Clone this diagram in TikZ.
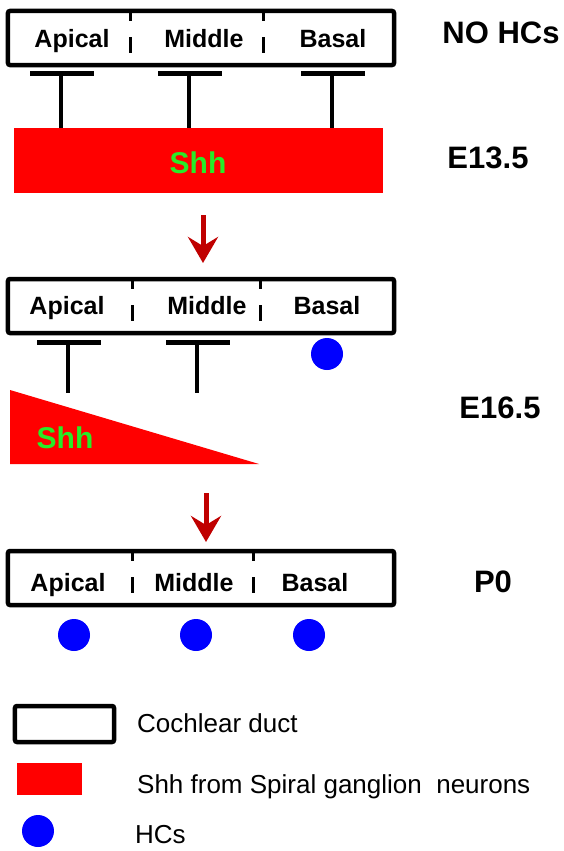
\documentclass[tikz,border=0pt]{standalone}
\usepackage{fontspec}
\setmainfont{Liberation Sans}
\usetikzlibrary{arrows.meta,calc}
\definecolor{shhred}{RGB}{255,0,0}
\definecolor{shhgreen}{RGB}{40,235,40}
\definecolor{hcblue}{RGB}{0,0,255}
\definecolor{flowred}{RGB}{192,0,0}

\begin{document}
\begin{tikzpicture}[x=1bp,y=-1bp,
  duct/.style={draw=black, line width=4.5bp, rounded corners=2bp,
    minimum width=386bp, minimum height=54bp, inner sep=0pt},
  divider/.style={line width=3bp, dash pattern=on 10bp off 16bp on 16bp off 20bp},
  region/.style={font=\fontsize{25bp}{30bp}\selectfont\bfseries, anchor=base, inner sep=0pt},
  stage/.style={font=\fontsize{31bp}{36bp}\selectfont\bfseries, anchor=base, inner sep=0pt},
  shhlabel/.style={font=\fontsize{30bp}{36bp}\selectfont\bfseries, text=shhgreen, anchor=base, inner sep=0pt},
  shhzone/.style={fill=shhred, inner sep=0pt},
  inhbar/.style={line width=5bp},
  inhstem/.style={line width=4.5bp},
  hc/.style={circle, fill=hcblue, minimum size=32bp, inner sep=0pt},
  flow/.style={-{Stealth[length=26bp, width=30bp, inset=9bp]},
    line width=5bp, draw=flowred},
  legendtext/.style={font=\fontsize{26bp}{30bp}\selectfont, anchor=base west, inner sep=0pt}
]
\useasboundingbox (0,0) rectangle (564,851);

% ---------- E13.5 : no hair cells ----------
\node[duct] (d1) at (201,38) {};
\draw[divider] (130,11) -- (130,65);
\draw[divider] (263,11) -- (263,65);
\node[region] (d1a) at (72,47) {Apical};
\node[region] (d1m) at (204,47) {Middle};
\node[region] (d1b) at (333,47) {Basal};
\node[stage] (s1) at (501,43) {NO HCs};

\node[shhzone, minimum width=369bp, minimum height=65bp] (shh1) at (198.5,160.5) {};
\node[shhlabel] (shh1t) at (198,173) {Shh};
\node[stage] (s2) at (488,168) {E13.5};

\foreach \x/\n in {61/a,189/m,332/b}{
  \coordinate (i1\n) at (\x,73);
  \draw[inhbar] ($(i1\n)+(-31,0)$) -- ($(i1\n)+(33,0)$);
  \draw[inhstem] ($(i1\n)+(0,2)$) -- (i1\n |- shh1.north);
}

% ---------- transition ----------
\coordinate (f1s) at (203,215);
\coordinate (f1e) at (203,263);
\draw[flow] (f1s) -- (f1e);

% ---------- E16.5 : basal hair cells ----------
\node[duct] (d2) at (201,306) {};
\draw[divider] (132,279) -- (132,333);
\draw[divider] (260,279) -- (260,333);
\node[region] (d2a) at (67,314) {Apical};
\node[region] (d2m) at (207,314) {Middle};
\node[region] (d2b) at (327,314) {Basal};

\foreach \x/\n in {68/a,197/m}{
  \coordinate (i2\n) at (\x,342);
  \coordinate (j2\n) at (\x,393);
  \draw[inhbar] ($(i2\n)+(-31,0)$) -- ($(i2\n)+(33,0)$);
  \draw[inhstem] ($(i2\n)+(0,2)$) -- (j2\n);
}
\node[hc] (hc2b) at (327,354) {};

\fill[shhred] (10,390) -- (10,464) -- (259,464) -- cycle;
\node[shhlabel] (shh2t) at (65,448) {Shh};
\node[stage] (s3) at (500,418) {E16.5};

% ---------- transition ----------
\coordinate (f2s) at (206,493);
\coordinate (f2e) at (206,542);
\draw[flow] (f2s) -- (f2e);

% ---------- P0 : hair cells everywhere ----------
\node[duct] (d3) at (201,578) {};
\draw[divider] (132,551) -- (132,605);
\draw[divider] (253,551) -- (253,605);
\node[region] (d3a) at (68,591) {Apical};
\node[region] (d3m) at (194,591) {Middle};
\node[region] (d3b) at (315,591) {Basal};
\node[stage] (s4) at (493,592) {P0};
\node[hc] (hc3a) at (74,635) {};
\node[hc] (hc3m) at (196,635) {};
\node[hc] (hc3b) at (309,635) {};

% ---------- legend ----------
\node[draw=black, line width=4.5bp, rounded corners=2bp, minimum width=99bp,
  minimum height=36bp, inner sep=0pt] (lg1) at (64.5,724) {};
\node[legendtext] (lg1t) at (137,732) {Cochlear duct};
\node[shhzone, minimum width=65bp, minimum height=32bp] (lg2) at (49.5,779) {};
\node[legendtext] (lg2t) at (137,793) {Shh from Spiral ganglion\ \ neurons};
\node[hc] (lg3) at (38,831) {};
\node[legendtext] (lg3t) at (135,843) {HCs};
\end{tikzpicture}
\end{document}
